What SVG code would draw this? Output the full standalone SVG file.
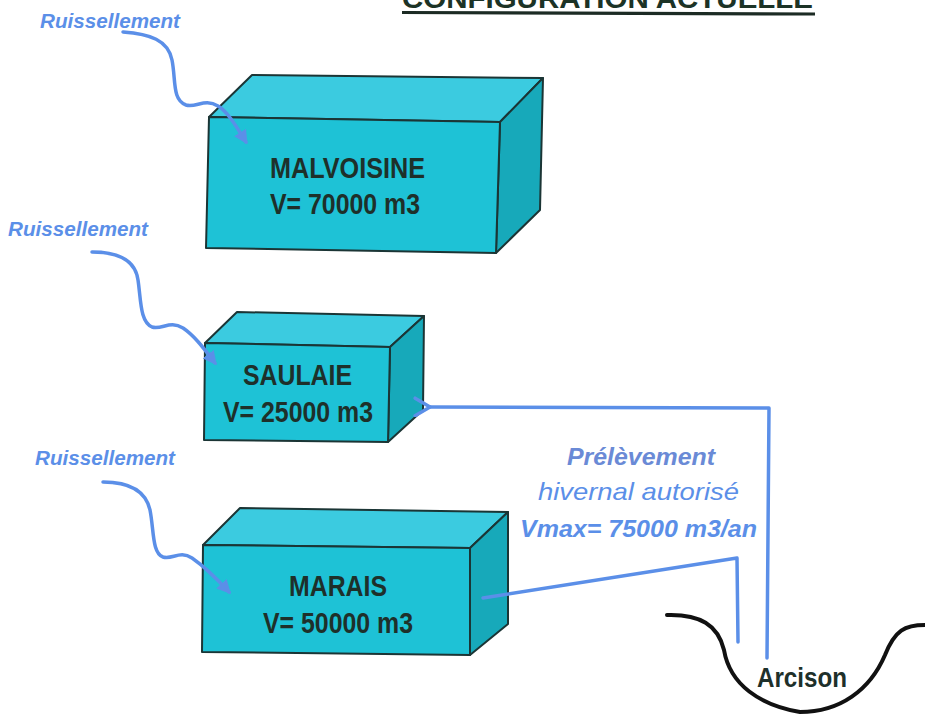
<svg xmlns="http://www.w3.org/2000/svg" width="925" height="719" viewBox="0 0 925 719">
<defs>
<style>
.front{fill:#1ec2d6;stroke:#1b3535;stroke-width:2;stroke-linejoin:round}
.top{fill:#3bcbe0;stroke:#1b3535;stroke-width:2;stroke-linejoin:round}
.side{fill:#17a9ba;stroke:#1b3535;stroke-width:2;stroke-linejoin:round}
.lbl{font-family:"Liberation Sans",Arial,sans-serif;font-weight:bold;fill:#1e302a;font-size:29px}
.blue{font-family:"Liberation Sans",Arial,sans-serif;font-style:italic;font-weight:bold;fill:#5b8fe8}
.flow{fill:none;stroke:#5b8fe8;stroke-width:3.5;stroke-linecap:round;stroke-linejoin:round}
</style>
<marker id="ah" viewBox="0 0 10 10" refX="8" refY="5" markerWidth="4" markerHeight="4" orient="auto" markerUnits="strokeWidth">
<path d="M0,0 L10,5 L0,10 z" fill="#5b8fe8"/>
</marker>
<marker id="ah2" viewBox="0 0 12 12" refX="1.5" refY="6" markerWidth="6" markerHeight="6" orient="auto" markerUnits="strokeWidth">
<path d="M10,1 L1.5,6 L10,11" fill="none" stroke="#5b8fe8" stroke-width="2" stroke-linecap="round" stroke-linejoin="round"/>
</marker>
</defs>
<rect width="925" height="719" fill="#ffffff"/>

<g id="title">
<text x="402" y="8" font-family="Liberation Sans,Arial,sans-serif" font-weight="bold" font-size="27" fill="#1c3326" textLength="411" lengthAdjust="spacingAndGlyphs">CONFIGURATION ACTUELLE</text>
<line x1="402" y1="12.5" x2="815" y2="14" stroke="#1c2b24" stroke-width="3.2"/>
</g>

<g id="malvoisine">
<polygon class="top" points="209,117 252,75 543,78 500,122"/>
<polygon class="side" points="500,122 543,78 540,210 496,253"/>
<polygon class="front" points="209,117 500,122 496,253 206,248"/>
<text class="lbl" x="270" y="178" textLength="155" lengthAdjust="spacingAndGlyphs">MALVOISINE</text>
<text class="lbl" x="270" y="214" textLength="150" lengthAdjust="spacingAndGlyphs">V= 70000 m3</text>
</g>

<g id="saulaie">
<polygon class="top" points="205,343 237,312 424,316 390,347"/>
<polygon class="side" points="390,347 424,316 423,410 388,442"/>
<polygon class="front" points="205,343 390,347 388,442 204,440"/>
<text class="lbl" x="243" y="385" textLength="109" lengthAdjust="spacingAndGlyphs">SAULAIE</text>
<text class="lbl" x="223" y="422" textLength="150" lengthAdjust="spacingAndGlyphs">V= 25000 m3</text>
</g>

<g id="marais">
<polygon class="top" points="203,545 240,508 508,512 470,548"/>
<polygon class="side" points="470,548 508,512 508,624 470,655"/>
<polygon class="front" points="203,545 470,548 470,655 202,652"/>
<text class="lbl" x="289" y="596" textLength="98" lengthAdjust="spacingAndGlyphs">MARAIS</text>
<text class="lbl" x="263" y="633" textLength="150" lengthAdjust="spacingAndGlyphs">V= 50000 m3</text>
</g>

<g id="arcison">
<path d="M667,615 C700,614 718,625 724,650 C730,685 760,705 800,712 C840,712 870,690 885,655 C895,630 905,625 925,625" fill="none" stroke="#111" stroke-width="4" stroke-linecap="round"/>
<text class="lbl" x="757" y="687" style="font-size:27px" textLength="90" lengthAdjust="spacingAndGlyphs">Arcison</text>
</g>

<g id="labels">
<text class="blue" x="40" y="28" font-size="20" textLength="140" lengthAdjust="spacingAndGlyphs">Ruissellement</text>
<text class="blue" x="8" y="236" font-size="20" textLength="140" lengthAdjust="spacingAndGlyphs">Ruissellement</text>
<text class="blue" x="35" y="465" font-size="20" textLength="140" lengthAdjust="spacingAndGlyphs">Ruissellement</text>
<text class="blue" x="567" y="465" font-size="24" textLength="148" lengthAdjust="spacingAndGlyphs" style="fill:#6a8ad6">Prélèvement</text>
<text class="blue" x="538" y="500" font-size="24" textLength="201" lengthAdjust="spacingAndGlyphs" style="font-weight:normal">hivernal autorisé</text>
<text class="blue" x="520" y="537" font-size="24" textLength="237" lengthAdjust="spacingAndGlyphs">Vmax= 75000 m3/an</text>
</g>

<g id="connectors">
<path class="flow" marker-end="url(#ah)" d="M123,32 C150,34 168,40 172,60 C176,80 172,100 186,105 C196,108 205,98 218,106 C228,112 236,126 246,142"/>
<path class="flow" marker-end="url(#ah)" d="M92,252 C115,252 135,258 138,280 C141,300 140,322 152,327 C162,330 170,320 183,328 C195,336 205,350 215,363"/>
<path class="flow" marker-end="url(#ah)" d="M103,482 C125,482 145,488 150,510 C154,530 152,553 163,557 C172,560 180,550 192,558 C205,567 218,580 229,592"/>
<polyline class="flow" points="483,598 737,558 738,642"/>
<polyline class="flow" marker-end="url(#ah2)" points="767,658 769,408 430,407"/>
</g>
</svg>
